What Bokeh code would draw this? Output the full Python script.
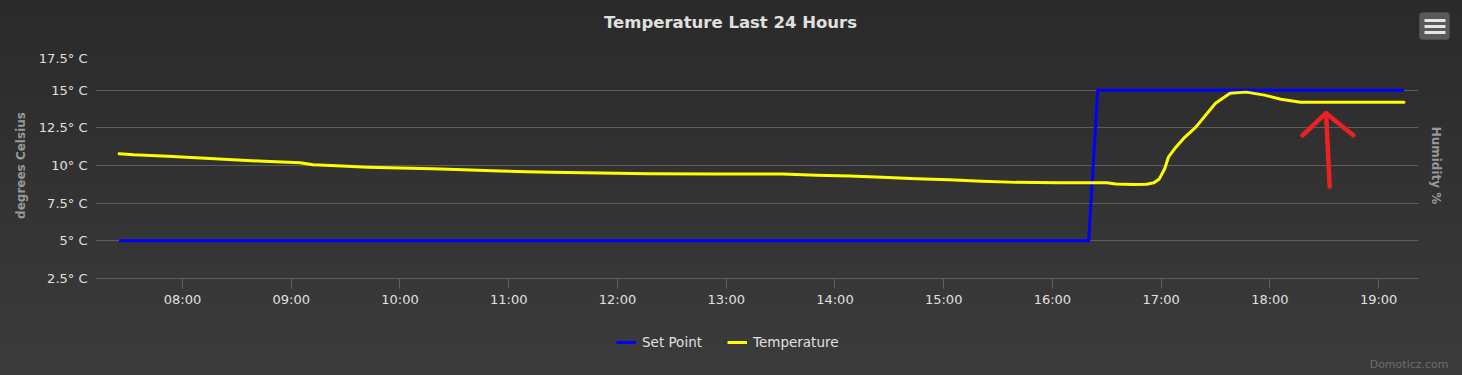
import pandas as pd
from bokeh.plotting import figure
from bokeh.layouts import column
from bokeh.models import (LinearAxis, Range1d, FixedTicker, DatetimeTickFormatter,
                          Legend, LegendItem, Label, BoxAnnotation, GlobalInlineStyleSheet)
from bokeh.embed import file_html
from bokeh.resources import INLINE

DAY = "2016-01-01 "

setpoint_times = ["07:25", "16:20", "16:25", "19:14"]
setpoint_values = [5, 5, 15, 15]

temp_times = ["07:25", "07:33", "07:52", "08:10", "08:28", "08:45", "09:05", "09:12", "09:25",
              "09:42", "10:00", "10:18", "10:35", "10:55", "11:10", "11:23", "11:50", "12:18",
              "12:55", "13:31", "13:50", "14:08", "14:26", "14:45", "15:03", "15:21", "15:40",
              "16:03", "16:30", "16:35", "16:45", "16:52", "16:56", "16:59", "17:02", "17:04",
              "17:08", "17:13", "17:19", "17:30", "17:38", "17:47", "17:57", "18:06", "18:17",
              "19:14"]
temp_values = [10.78, 10.71, 10.62, 10.50, 10.38, 10.28, 10.18, 10.05, 9.98,
               9.89, 9.84, 9.78, 9.72, 9.64, 9.58, 9.56, 9.50, 9.45,
               9.44, 9.43, 9.36, 9.31, 9.22, 9.12, 9.05, 8.95, 8.88,
               8.86, 8.86, 8.77, 8.74, 8.76, 8.85, 9.11, 9.8, 10.55,
               11.2, 11.87, 12.53, 14.13, 14.8, 14.87, 14.67, 14.4, 14.2,
               14.2]

series_names = ["Set Point", "Temperature"]
series_colors = ["#0000ff", "#ffff00"]

x_tick_labels = ["08:00", "09:00", "10:00", "11:00", "12:00", "13:00",
                 "14:00", "15:00", "16:00", "17:00", "18:00", "19:00"]
y_ticks = [2.5, 5, 7.5, 10, 12.5, 15, 17.5]
y_tick_labels = ["2.5° C", "5° C", "7.5° C", "10° C", "12.5° C", "15° C", "17.5° C"]
x_start, x_end = "07:12", "19:22"
y_start, y_end = 2.5, 17.5

chart_title = "Temperature Last 24 Hours"
credits_text = "Domoticz.com"

# hand-drawn red arrow annotation (time, value) strokes
arrow_strokes_t = [["18:33", "18:31"], ["18:18", "18:31", "18:46"]]
arrow_strokes_v = [[8.6, 13.47], [12.0, 13.47, 12.0]]


def ts(t):
    return pd.to_datetime(DAY + t)


FONT = "DejaVu Sans"
TXT = "#e0e0e0"
W = 1462
TOP_H, MAIN_H, BOT_H = 50, 260, 65


def bare(fig):
    fig.background_fill_alpha = 0
    fig.border_fill_alpha = 0
    fig.outline_line_color = None
    fig.frame_align = False
    return fig


# ---------- header strip: title + menu button ----------
top_fig = bare(figure(width=W, height=TOP_H, x_range=Range1d(0, W), y_range=Range1d(TOP_H, 0),
                      x_axis_type=None, y_axis_type=None, output_backend="svg",
                      toolbar_location=None, min_border=0))
top_fig.add_layout(Label(x=730, y=22, text=chart_title, text_align="center",
                         text_baseline="middle", text_font=FONT, text_font_style="bold",
                         text_font_size="16.5px", text_color=TXT))
top_fig.add_layout(BoxAnnotation(left=1419, right=1449, top=12, bottom=39,
                                 fill_color="#595959", fill_alpha=1, line_color="#606060",
                                 border_radius=3, level="overlay"))
for yb in (20, 26, 32):
    top_fig.add_layout(BoxAnnotation(left=1424, right=1445, top=yb - 1.5, bottom=yb + 1.5,
                                     fill_color="#e4e4e4", fill_alpha=1, line_color=None,
                                     level="overlay"))

# ---------- main chart ----------
fig = bare(figure(width=W, height=MAIN_H, x_axis_type="datetime",
                  x_range=Range1d(ts(x_start), ts(x_end)), y_range=Range1d(y_start, y_end),
                  output_backend="svg", toolbar_location=None,
                  min_border_left=95, min_border_right=44, min_border_top=2, min_border_bottom=32))
fig.stylesheets = [GlobalInlineStyleSheet(
    css="html{min-height:100%;background:linear-gradient(#2a2a2a,#3b3b3b) fixed;}body{background:transparent;}")]

fig.line([ts(t) for t in setpoint_times], setpoint_values,
         line_color=series_colors[0], line_width=3, line_join="round")
fig.line([ts(t) for t in temp_times], temp_values,
         line_color=series_colors[1], line_width=3, line_join="round", line_cap="round")

fig.multi_line([[ts(t) for t in s] for s in arrow_strokes_t], arrow_strokes_v,
               line_color="#ee2024", line_width=4.5, line_cap="round", line_join="round")

xa = fig.xaxis[0]
xa.ticker = FixedTicker(ticks=[ts(t).value / 1e6 for t in x_tick_labels])
xa.formatter = DatetimeTickFormatter(hours="%H:%M", minutes="%H:%M", hourmin="%H:%M",
                                     days="%H:%M", minsec="%H:%M")
xa.axis_line_color = "#5f5f5f"
xa.major_tick_line_color = "#5f5f5f"
xa.major_tick_out = 10
xa.major_tick_in = 0
xa.minor_tick_line_color = None
xa.major_label_standoff = 3
xa.major_label_text_color = TXT
xa.major_label_text_font = FONT
xa.major_label_text_font_size = "13px"

ya = fig.yaxis[0]
ya.ticker = FixedTicker(ticks=y_ticks)
ya.major_label_overrides = {v: l for v, l in zip(y_ticks, y_tick_labels)}
ya.axis_line_color = None
ya.major_tick_line_color = None
ya.minor_tick_line_color = None
ya.major_label_standoff = 2
ya.major_label_text_color = TXT
ya.major_label_text_font = FONT
ya.major_label_text_font_size = "13px"
ya.axis_label = "degrees Celsius"
ya.axis_label_text_font = FONT
ya.axis_label_text_font_style = "bold"
ya.axis_label_text_font_size = "12px"
ya.axis_label_text_color = "#999999"
ya.axis_label_standoff = 8

fig.extra_y_ranges = {"hum": Range1d(0, 100)}
ra = LinearAxis(y_range_name="hum", ticker=FixedTicker(ticks=[]), axis_label="Humidity %")
ra.axis_line_color = None
ra.major_tick_line_color = None
ra.minor_tick_line_color = None
ra.major_label_standoff = 0
ra.axis_label_text_font = FONT
ra.axis_label_text_font_style = "bold"
ra.axis_label_text_font_size = "12px"
ra.axis_label_text_color = "#999999"
ra.axis_label_standoff = 10
fig.add_layout(ra, "right")

fig.xgrid.grid_line_color = None
fig.ygrid.grid_line_color = "#5d5d5d"
fig.ygrid.grid_line_width = 1

# ---------- footer strip: legend + credits ----------
bottom_fig = bare(figure(width=W, height=BOT_H, x_range=Range1d(0, W), y_range=Range1d(BOT_H, 0),
                         x_axis_type=None, y_axis_type=None, output_backend="svg",
                         toolbar_location=None, min_border=0))
proxies = [bottom_fig.line([float("nan")], [float("nan")], line_color=c, line_width=3)
           for c in series_colors]
legend = Legend(items=[LegendItem(label=n, renderers=[r]) for n, r in zip(series_names, proxies)],
                orientation="horizontal", location=(616, 23),
                background_fill_alpha=0, border_line_color=None,
                label_text_color=TXT, label_text_font=FONT, label_text_font_size="13.5px",
                glyph_width=20, glyph_height=20, label_standoff=6, spacing=25,
                padding=0, margin=0)
bottom_fig.add_layout(legend)
bottom_fig.add_layout(Label(x=1448, y=54, text=credits_text, text_align="right",
                            text_baseline="middle", text_font=FONT, text_font_size="11px",
                            text_color="#666e76"))

p = column(top_fig, fig, bottom_fig, spacing=0)

open("out.html", "w").write(file_html(p, INLINE))
